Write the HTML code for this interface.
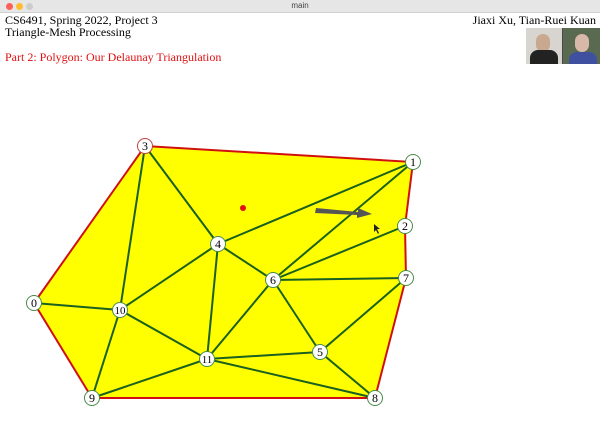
<!DOCTYPE html>
<html><head><meta charset="utf-8"><style>
body{margin:0;width:600px;height:436px;overflow:hidden;background:#fff;font-family:"Liberation Serif",serif;position:relative}
.t{position:absolute;font-size:12px;line-height:12px;color:#000}
</style></head><body>
<div style="position:absolute;left:0;top:0;width:600px;height:12px;background:#e6e6e6;border-bottom:1px solid #d0d0d0">
<span style="position:absolute;left:6px;top:3px;width:7px;height:7px;border-radius:50%;background:#fe5f57"></span>
<span style="position:absolute;left:16px;top:3px;width:7px;height:7px;border-radius:50%;background:#febc2e"></span>
<span style="position:absolute;left:26px;top:3px;width:7px;height:7px;border-radius:50%;background:#ccc"></span>
<span style="position:absolute;left:0;width:600px;top:1px;text-align:center;font-family:'Liberation Sans',sans-serif;font-size:8px;color:#444">main</span>
</div>
<div class="t" style="left:5px;top:14px">CS6491, Spring 2022, Project 3</div>
<div class="t" style="left:5px;top:26px">Triangle-Mesh Processing</div>
<div class="t" style="left:5px;top:51px;color:#e01010">Part 2: Polygon: Our Delaunay Triangulation</div>
<div class="t" style="right:4px;top:14px">Jiaxi Xu, Tian-Ruei Kuan</div>
<div style="position:absolute;left:526px;top:28px;width:74px;height:36px;background:#4a4a4a">
<div style="position:absolute;left:0;top:0;width:36px;height:36px;background:#d8d4d0"><div style="position:absolute;left:10px;top:6px;width:14px;height:18px;border-radius:7px;background:#c9a890"></div><div style="position:absolute;left:4px;top:22px;width:28px;height:14px;background:#222;border-radius:8px 8px 0 0"></div></div>
<div style="position:absolute;left:37px;top:0;width:37px;height:36px;background:#5a6a50"><div style="position:absolute;left:12px;top:6px;width:14px;height:18px;border-radius:7px;background:#d8b8a8"></div><div style="position:absolute;left:6px;top:24px;width:28px;height:12px;background:#4050a0;border-radius:8px 8px 0 0"></div></div>
</div>
<svg id="c" width="600" height="436" style="position:absolute;left:0;top:0"></svg>
<script>
const xs=[34,413,405,145,218,320,273,406,375,92,120,207];
const ys=[303,162,226,146,244,352,280,278,398,398,310,359];
const boundary=[0,3,1,2,7,8,9];
const edges=[[3,4],[3,10],[4,1],[1,6],[6,2],[6,7],[4,6],[4,10],[4,11],[10,11],[11,6],[6,5],[5,7],[5,8],[11,5],[11,8],[11,9],[10,9],[0,10]];
const NS="http://www.w3.org/2000/svg",svg=document.getElementById('c');
function mk(t,a){const e=document.createElementNS(NS,t);for(const k in a)e.setAttribute(k,a[k]);svg.appendChild(e);return e;}
const pts=boundary.map(i=>xs[i]+','+ys[i]).join(' ');
const poly=mk('polygon',{points:pts,fill:'#ffff00',stroke:'#d01010','stroke-width':2});


edges.forEach(([a,b])=>{const l=mk('line',{x1:xs[a],y1:ys[a],x2:xs[b],y2:ys[b],stroke:'#1a6020','stroke-width':2});

});
const dot=mk('circle',{cx:243,cy:208,r:3,fill:'#e01010'});


const arr=mk('path',{d:'M316,208 L358,212 L358,208 L372,214 L357,218 L357,215 L315,213 Z',fill:'#555'});


const cur=mk('path',{d:'M374,224 L374,232 L376,230 L378,234 L379,233 L377,229 L380,229 Z',fill:'#222'});


xs.forEach((x,i)=>{const g=document.createElementNS(NS,'g');svg.appendChild(g);


const c=document.createElementNS(NS,'circle');c.setAttribute('cx',x);c.setAttribute('cy',ys[i]);c.setAttribute('r',7.5);c.setAttribute('fill','#fff');c.setAttribute('stroke',i===3?'#c04040':'#4a8a4a');c.setAttribute('stroke-width',1);g.appendChild(c);
const t=document.createElementNS(NS,'text');t.setAttribute('x',x);t.setAttribute('y',ys[i]+4);t.setAttribute('text-anchor','middle');t.setAttribute('font-family','Liberation Serif,serif');t.setAttribute('font-size',i>=10?11:12);t.setAttribute('fill','#000');t.textContent=i;g.appendChild(t);});
</script>
</body></html>
